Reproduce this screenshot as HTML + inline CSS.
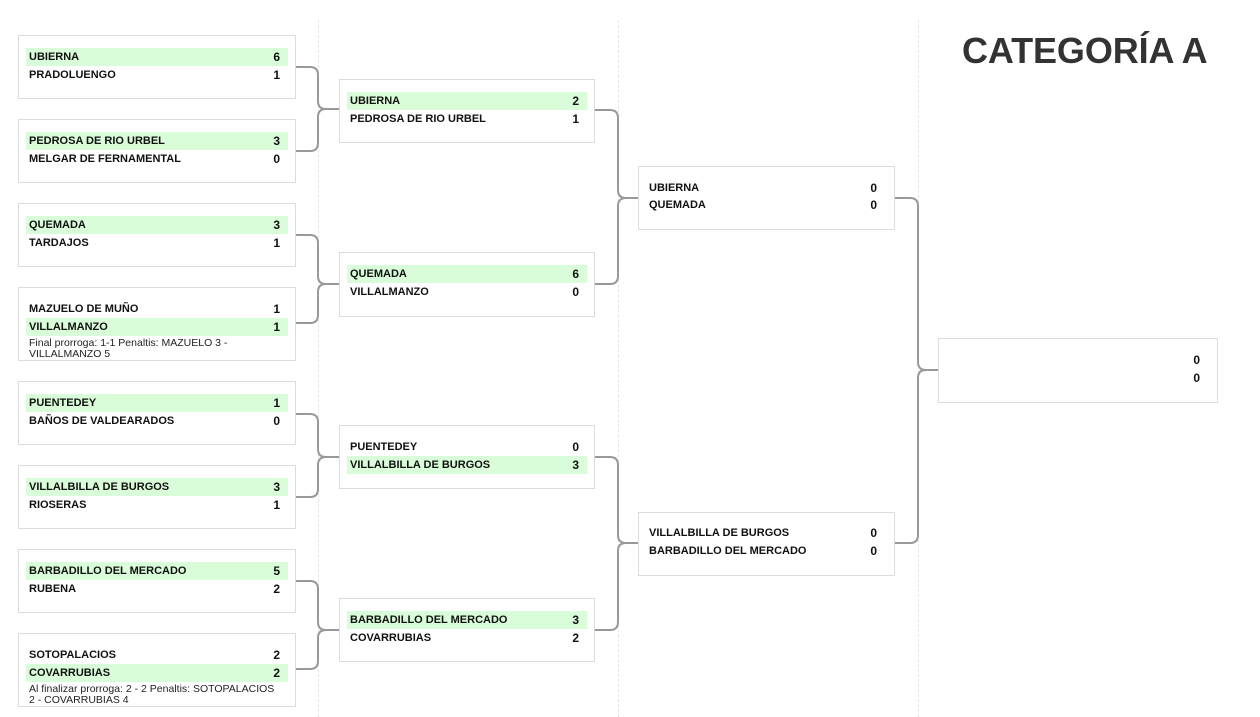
<!DOCTYPE html>
<html><head><meta charset="utf-8"><style>
body{margin:0;width:1260px;height:717px;background:#fff;position:relative;overflow:hidden;font-family:"Liberation Sans",Arial,sans-serif;}
.v{position:absolute;top:20px;height:697px;border-left:1px dashed #e6e6e6;}
.b{position:absolute;background:#fff;border:1px solid #dcdcdc;box-sizing:border-box;}
.r{position:absolute;left:7px;right:7px;height:18px;font-size:11px;font-weight:bold;color:#111;line-height:18px;padding-left:3px;}
.r.w{background:#d9fdd9;}
.r span{position:absolute;right:8px;top:0;font-size:12px;}
.n{position:absolute;left:10px;right:14px;font-size:10.5px;color:#222;line-height:11px;}
h1{position:absolute;left:962px;top:30px;margin:0;font-size:36px;font-weight:900;color:#333;letter-spacing:-0.1px;font-family:"Liberation Sans",Arial,sans-serif;}
</style></head><body>
<div class="v" style="left:318px"></div><div class="v" style="left:618px"></div><div class="v" style="left:918px"></div>
<h1>CATEGORÍA A</h1>
<svg width="1260" height="717" style="position:absolute;left:0;top:0" fill="none" stroke="#999" stroke-width="2">
<path d="M295 67 H310 Q318 67 318 75 V101 Q318 109 326 109 H340 M295 151 H310 Q318 151 318 143 V117 Q318 109 326 109"/>
<path d="M295 235 H310 Q318 235 318 243 V276 Q318 284 326 284 H340 M295 323 H310 Q318 323 318 315 V292 Q318 284 326 284"/>
<path d="M295 414 H310 Q318 414 318 422 V449 Q318 457 326 457 H340 M295 497 H310 Q318 497 318 489 V465 Q318 457 326 457"/>
<path d="M295 581 H310 Q318 581 318 589 V622 Q318 630 326 630 H340 M295 669 H310 Q318 669 318 661 V638 Q318 630 326 630"/>
<path d="M594 110 H610 Q618 110 618 118 V190 Q618 198 626 198 H638 M594 284 H610 Q618 284 618 276 V206 Q618 198 626 198"/>
<path d="M594 457 H610 Q618 457 618 465 V535 Q618 543 626 543 H638 M594 630 H610 Q618 630 618 622 V551 Q618 543 626 543"/>
<path d="M894 198 H910 Q918 198 918 206 V362 Q918 370 926 370 H938 M894 543 H910 Q918 543 918 535 V378 Q918 370 926 370"/>
</svg>

<div class="b" style="left:18px;top:35px;width:278px;height:64px"><div class="r w" style="top:12px">UBIERNA<span>6</span></div><div class="r" style="top:30px">PRADOLUENGO<span>1</span></div></div>
<div class="b" style="left:18px;top:119px;width:278px;height:64px"><div class="r w" style="top:12px">PEDROSA DE RIO URBEL<span>3</span></div><div class="r" style="top:30px">MELGAR DE FERNAMENTAL<span>0</span></div></div>
<div class="b" style="left:18px;top:203px;width:278px;height:64px"><div class="r w" style="top:12px">QUEMADA<span>3</span></div><div class="r" style="top:30px">TARDAJOS<span>1</span></div></div>
<div class="b" style="left:18px;top:287px;width:278px;height:74px"><div class="r" style="top:12px">MAZUELO DE MUÑO<span>1</span></div><div class="r w" style="top:30px">VILLALMANZO<span>1</span></div><div class="n" style="top:50px">Final prorroga: 1-1 Penaltis: MAZUELO 3 - VILLALMANZO 5</div></div>
<div class="b" style="left:18px;top:381px;width:278px;height:64px"><div class="r w" style="top:12px">PUENTEDEY<span>1</span></div><div class="r" style="top:30px">BAÑOS DE VALDEARADOS<span>0</span></div></div>
<div class="b" style="left:18px;top:465px;width:278px;height:64px"><div class="r w" style="top:12px">VILLALBILLA DE BURGOS<span>3</span></div><div class="r" style="top:30px">RIOSERAS<span>1</span></div></div>
<div class="b" style="left:18px;top:549px;width:278px;height:64px"><div class="r w" style="top:12px">BARBADILLO DEL MERCADO<span>5</span></div><div class="r" style="top:30px">RUBENA<span>2</span></div></div>
<div class="b" style="left:18px;top:633px;width:278px;height:74px"><div class="r" style="top:12px">SOTOPALACIOS<span>2</span></div><div class="r w" style="top:30px">COVARRUBIAS<span>2</span></div><div class="n" style="top:50px">Al finalizar prorroga: 2 - 2 Penaltis: SOTOPALACIOS 2 - COVARRUBIAS 4</div></div>

<div class="b" style="left:339px;top:79px;width:256px;height:64px"><div class="r w" style="top:12px">UBIERNA<span>2</span></div><div class="r" style="top:30px">PEDROSA DE RIO URBEL<span>1</span></div></div>
<div class="b" style="left:339px;top:252px;width:256px;height:65px"><div class="r w" style="top:12px">QUEMADA<span>6</span></div><div class="r" style="top:30px">VILLALMANZO<span>0</span></div></div>
<div class="b" style="left:339px;top:425px;width:256px;height:64px"><div class="r" style="top:12px">PUENTEDEY<span>0</span></div><div class="r w" style="top:30px">VILLALBILLA DE BURGOS<span>3</span></div></div>
<div class="b" style="left:339px;top:598px;width:256px;height:64px"><div class="r w" style="top:12px">BARBADILLO DEL MERCADO<span>3</span></div><div class="r" style="top:30px">COVARRUBIAS<span>2</span></div></div>

<div class="b" style="left:638px;top:166px;width:257px;height:64px"><div class="r" style="top:12px;right:9px">UBIERNA<span>0</span></div><div class="r" style="top:29px;right:9px">QUEMADA<span>0</span></div></div>
<div class="b" style="left:638px;top:512px;width:257px;height:64px"><div class="r" style="top:11px;right:9px">VILLALBILLA DE BURGOS<span>0</span></div><div class="r" style="top:29px;right:9px">BARBADILLO DEL MERCADO<span>0</span></div></div>

<div class="b" style="left:938px;top:338px;width:280px;height:65px"><div class="r" style="top:12px;right:9px"><span>0</span></div><div class="r" style="top:30px;right:9px"><span>0</span></div></div>
</body></html>
